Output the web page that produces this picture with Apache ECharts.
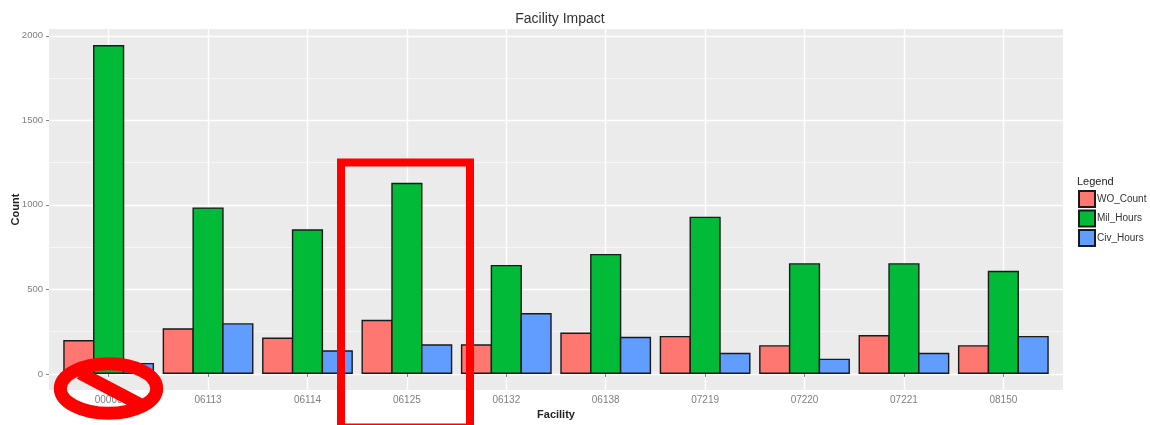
<!DOCTYPE html>
<html><head><meta charset="utf-8">
<style>html,body{margin:0;padding:0;background:#fff}#c{width:1150px;height:425px}</style>
<script src="https://cdn.jsdelivr.net/npm/echarts@6/dist/echarts.min.js"></script>
</head><body><div id="c"></div>
<script>
const categories = ["00000","06113","06114","06125","06132","06138","07219","07220","07221","08150"];
const woCount  = [200,270,215,320,175,245,225,170,230,170];
const milHours = [1945,985,855,1130,645,710,930,655,655,610];
const civHours = [65,300,140,175,360,220,125,90,125,225];
const majorTicks = [0,500,1000,1500,2000];
const minorLines = [250,750,1250,1750];
const positions = categories.map((_, i) => i + 1);
const font = '"Liberation Sans", Arial, sans-serif';
const mk = (name, vals, color) => ({
  name, type:'bar', data: vals.map((v,i)=>[positions[i],v]),
  barGap:'-4.5%', barWidth:31.2,
  itemStyle:{color, borderColor:'#1a1a1a', borderWidth:1.4},
  emphasis:{disabled:true}
});
const chart = echarts.init(document.getElementById('c'),null,{renderer:'canvas'});
chart.setOption({
  animation:false,
  backgroundColor:'#fff',
  title:{text:'Facility Impact',left:555,top:7,textAlign:'center',
    textStyle:{fontFamily:font,fontSize:14,fontWeight:'normal',color:'#333'}},
  grid:{left:49,top:29,width:1014,height:361,backgroundColor:'#EBEBEB',show:true,borderWidth:0,outerBoundsMode:'none'},
  legend:{orient:'vertical',left:1078,top:190,itemWidth:16,itemHeight:16,itemGap:1.5,icon:'rect',
    data:['WO_Count','Mil_Hours','Civ_Hours'],
    textStyle:{fontFamily:font,fontSize:10,color:'#333',padding:[0,0,0,-3]},selectedMode:false,padding:0},
  xAxis:{type:'value',min:0.4,max:10.6,
    name:'Facility',nameLocation:'middle',nameGap:19,nameMoveOverlap:false,
    nameTextStyle:{fontFamily:font,fontSize:11,fontWeight:'bold',color:'#222'},
    axisLine:{show:false},
    axisTick:{show:true,length:3,customValues:positions,lineStyle:{color:'#7f7f7f'}},
    axisLabel:{customValues:positions,formatter:v=>categories[v-1],fontFamily:font,fontSize:10,color:'#7f7f7f',margin:5},
    splitLine:{show:true,lineStyle:{color:'#fff',width:1.4}}},
  yAxis:[
    {type:'value',min:-95,max:2040,
     name:'Count',nameLocation:'middle',nameGap:28,nameRotate:90,nameMoveOverlap:false,
     nameTextStyle:{fontFamily:font,fontSize:11,fontWeight:'bold',color:'#222'},
     axisLine:{show:false},
     axisTick:{show:true,length:3,customValues:majorTicks,lineStyle:{color:'#7f7f7f'}},
     axisLabel:{customValues:majorTicks,formatter:v=>String(v),fontFamily:font,fontSize:9.5,color:'#7f7f7f',margin:6},
     splitLine:{show:true,lineStyle:{color:'#fff',width:1.4}}},
    {type:'value',min:-95,max:2040,position:'left',
     axisLine:{show:false},
     axisTick:{show:false,customValues:minorLines},
     axisLabel:{show:false,customValues:minorLines},
     splitLine:{show:true,lineStyle:{color:'#F6F6F6',width:1}}}
  ],
  series:[mk('WO_Count',woCount,'#FF7770'),mk('Mil_Hours',milHours,'#00BA38'),mk('Civ_Hours',civHours,'#619CFF')],
  graphic:[
    {type:'text',left:1077,top:176,z:100,style:{text:'Legend',font:'11px '+font,fill:'#222'}},
    {type:'rect',z:100,shape:{x:341,y:162.5,width:129,height:265},style:{fill:'none',stroke:'#FF0000',lineWidth:8}},
    {type:'ellipse',z:100,shape:{cx:108.5,cy:388.5,rx:48.2,ry:24.8},style:{fill:'none',stroke:'#FF0000',lineWidth:13}},
    {type:'line',z:100,shape:{x1:80,y1:373,x2:141,y2:405},style:{stroke:'#FF0000',lineWidth:13}}
  ]
});
</script></body></html>
